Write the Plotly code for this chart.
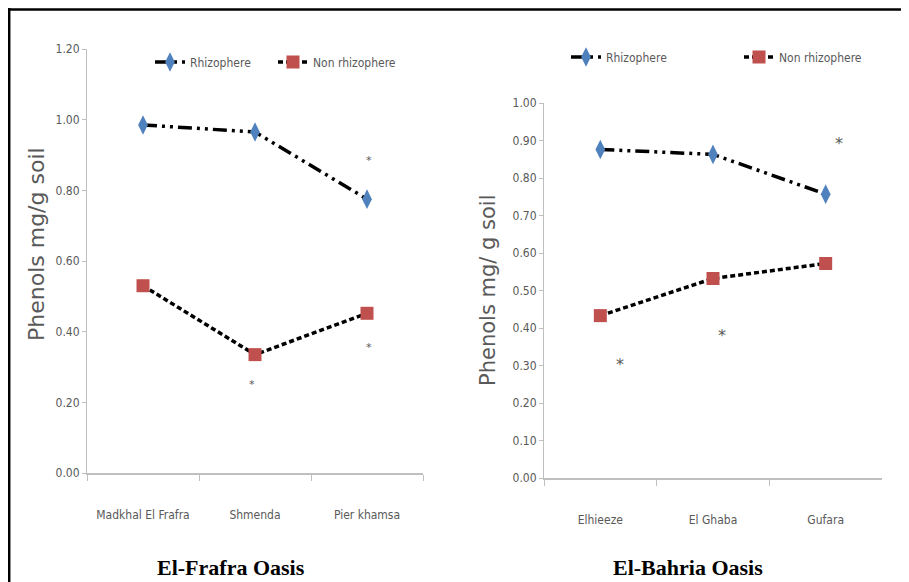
import plotly.graph_objects as go

# ---------------- data ----------------
frafra_sites = ["Madkhal El Frafra", "Shmenda", "Pier khamsa"]
frafra_rhizo = [0.985, 0.965, 0.775]
frafra_non = [0.53, 0.335, 0.452]
frafra_star_sites = ["Pier khamsa", "Shmenda", "Pier khamsa"]
frafra_star_vals = [0.89, 0.255, 0.36]

bahria_sites = ["Elhieeze", "El Ghaba", "Gufara"]
bahria_rhizo = [0.876, 0.863, 0.757]
bahria_non = [0.433, 0.532, 0.572]
bahria_star_sites = ["Gufara", "Elhieeze", "El Ghaba"]
bahria_star_vals = [0.90, 0.312, 0.387]

frafra_yticks = [0.0, 0.2, 0.4, 0.6, 0.8, 1.0, 1.2]
bahria_yticks = [0.0, 0.1, 0.2, 0.3, 0.4, 0.5, 0.6, 0.7, 0.8, 0.9, 1.0]

series_names = ["Rhizophere", "Non rhizophere"]
panel_titles = ["El-Frafra Oasis", "El-Bahria Oasis"]
y_titles = ["Phenols mg/g soil", "Phenols mg/ g soil"]

# ---------------- style / placement helpers ----------------
# the page body has an 8px margin; the figure is sized so it fits the window
OFF = 8
W, H = 893, 574
def px(x):
    return (x - OFF) / W
def py(y):
    return 1 - (y - OFF) / H

NARROW = "Liberation Sans Narrow, DejaVu Sans Condensed, Arial Narrow, sans-serif"
GRAY = "#595959"
AXIS = "#BFBFBF"
BLUE = "#4F81BD"
RED = "#C0504D"
rhizo_dash = "14px,5px,3px,5px,3px,5px"
non_dash = "5px,3px"
star_shift_frafra = [2, -3, 2]
star_shift_bahria = [13, 20, 9]
star_size_frafra = [11, 11, 11]
star_size_bahria = [16, 16, 16]

fig = go.Figure()

def add_panel(sites, rhizo, non, xa, ya, legend):
    fig.add_trace(go.Scatter(
        x=sites, y=rhizo, name=series_names[0], mode="lines+markers",
        line=dict(color="black", width=3.5, dash=rhizo_dash),
        marker=dict(symbol="diamond-tall", size=14, color=BLUE),
        xaxis=xa, yaxis=ya, legend=legend))
    fig.add_trace(go.Scatter(
        x=sites, y=non, name=series_names[1], mode="lines+markers",
        line=dict(color="black", width=3.5, dash=non_dash),
        marker=dict(symbol="square", size=13, color=RED),
        xaxis=xa, yaxis=ya, legend=legend))

add_panel(frafra_sites, frafra_rhizo, frafra_non, "x", "y", "legend")
add_panel(bahria_sites, bahria_rhizo, bahria_non, "x2", "y2", "legend2")

annotations = []
for s, v, sh, sz in zip(frafra_star_sites, frafra_star_vals, star_shift_frafra, star_size_frafra):
    annotations.append(dict(x=s, y=v, xref="x", yref="y", text="*", showarrow=False,
                            xshift=sh, yshift=-2, xanchor="center", yanchor="middle",
                            font=dict(size=sz, color=GRAY, family="DejaVu Sans")))
for s, v, sh, sz in zip(bahria_star_sites, bahria_star_vals, star_shift_bahria, star_size_bahria):
    annotations.append(dict(x=s, y=v, xref="x2", yref="y2", text="*", showarrow=False,
                            xshift=sh, yshift=-3, xanchor="center", yanchor="middle",
                            font=dict(size=sz, color=GRAY, family="DejaVu Sans")))

# y-axis titles
annotations.append(dict(x=px(37), y=py(244), xref="paper", yref="paper", text=y_titles[0],
                        textangle=-90, showarrow=False, xanchor="center", yanchor="middle",
                        font=dict(size=22, color=GRAY, family="DejaVu Sans")))
annotations.append(dict(x=px(488), y=py(290), xref="paper", yref="paper", text=y_titles[1],
                        textangle=-90, showarrow=False, xanchor="center", yanchor="middle",
                        font=dict(size=21, color=GRAY, family="DejaVu Sans")))
# panel titles
annotations.append(dict(x=px(231), y=py(567), xref="paper", yref="paper", text="<b>" + panel_titles[0] + "</b>",
                        showarrow=False, xanchor="center", yanchor="middle",
                        font=dict(size=22, color="black", family="Liberation Serif, Times New Roman, serif")))
annotations.append(dict(x=px(688), y=py(567), xref="paper", yref="paper", text="<b>" + panel_titles[1] + "</b>",
                        showarrow=False, xanchor="center", yanchor="middle",
                        font=dict(size=22, color="black", family="Liberation Serif, Times New Roman, serif")))

xcommon = dict(type="category", range=[-0.5, 2.5], showline=True, linecolor=AXIS, linewidth=1.5,
               ticks="outside", tickson="boundaries", ticklen=6, tickcolor=AXIS,
               showgrid=False, zeroline=False, tickfont=dict(family=NARROW, size=12, color=GRAY),
               ticklabelstandoff=30, fixedrange=True, automargin=False)
ycommon = dict(showline=True, linecolor=AXIS, linewidth=1, ticks="outside", ticklen=4, tickcolor=AXIS,
               showgrid=False, zeroline=False, tickformat=".2f", automargin=False,
               tickfont=dict(family=NARROW, size=12, color=GRAY), fixedrange=True)

fig.update_layout(
    width=W, height=H, autosize=False,
    margin=dict(l=0, r=0, t=0, b=0, autoexpand=False),
    paper_bgcolor="white", plot_bgcolor="white",
    xaxis=dict(domain=[px(87), px(423)], anchor="y", **xcommon),
    yaxis=dict(domain=[py(473), py(49)], anchor="x", range=[0, 1.2], tickvals=frafra_yticks, **ycommon),
    xaxis2=dict(domain=[px(544), px(882)], anchor="y2", **xcommon),
    yaxis2=dict(domain=[py(478), py(103)], anchor="x2", range=[0, 1.0], tickvals=bahria_yticks, **ycommon),
    legend=dict(orientation="h", x=px(150), y=py(62), xanchor="left", yanchor="middle",
                font=dict(family=NARROW, size=12, color=GRAY), bgcolor="rgba(0,0,0,0)",
                entrywidth=78, entrywidthmode="pixels"),
    legend2=dict(orientation="h", x=px(566), y=py(57), xanchor="left", yanchor="middle",
                 font=dict(family=NARROW, size=12, color=GRAY), bgcolor="rgba(0,0,0,0)",
                 entrywidth=128, entrywidthmode="pixels"),
    annotations=annotations,
    shapes=[
        dict(type="line", xref="paper", yref="paper", x0=1.2 / W, x1=1.2 / W, y0=0, y1=py(8),
             line=dict(color="black", width=2.5)),
        dict(type="line", xref="paper", yref="paper", x0=0, x1=1, y0=py(9.5), y1=py(9.5),
             line=dict(color="black", width=2.5)),
    ],
    showlegend=True,
)

fig.write_html("out.html")
